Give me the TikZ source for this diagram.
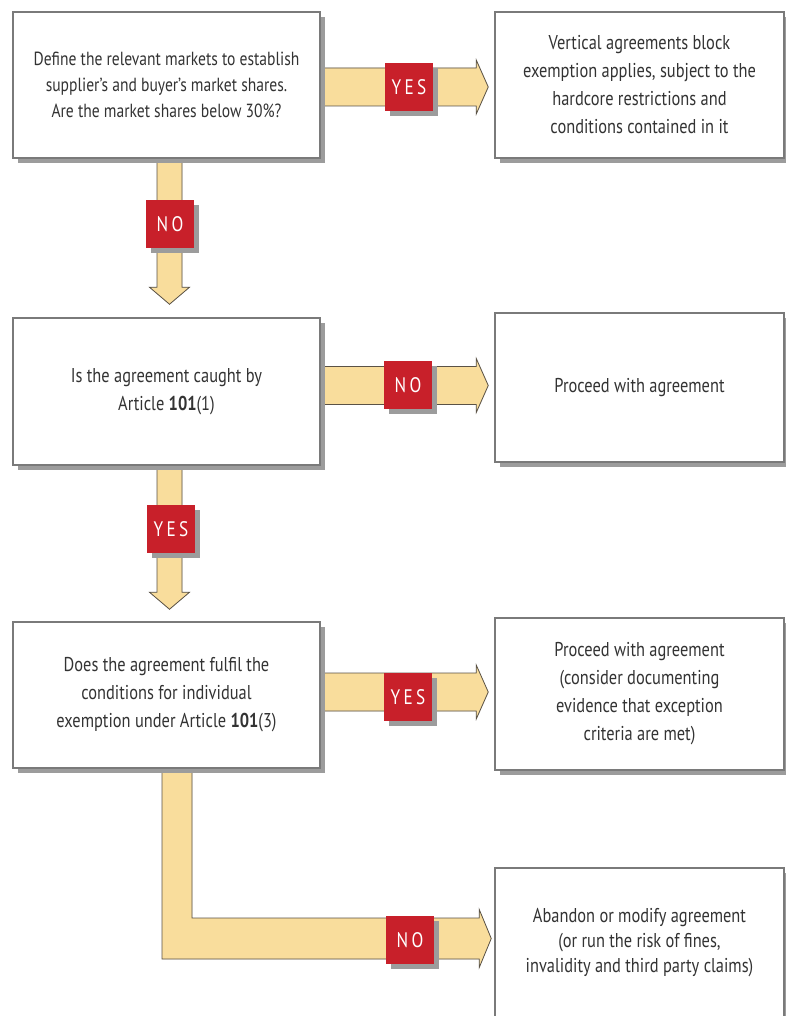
\documentclass[tikz,border=0pt]{standalone}
\usepackage{fontspec}
\setmainfont{PT Sans}[FakeStretch=0.82]
\usetikzlibrary{shadows,calc}
\pgfdeclarelayer{bg}
\pgfsetlayers{bg,main}
\definecolor{boxline}{HTML}{7A7A7A}
\definecolor{shadowgray}{HTML}{9C9C9C}
\definecolor{arrowfill}{HTML}{F9DD9C}
\definecolor{arrowline}{HTML}{5A5246}
\definecolor{labelred}{HTML}{C8202A}
\definecolor{textgray}{HTML}{333333}
\tikzset{
  box/.style={draw=boxline, line width=1.5pt, fill=white, align=center, text=textgray,
    inner sep=0pt, font=\fontsize{20}{28}\selectfont,
    drop shadow={shadow xshift=5pt, shadow yshift=-5pt, fill=shadowgray, opacity=1}},
  lbl/.style={fill=labelred, text=white, minimum width=48pt, minimum height=48pt, inner sep=0pt,
    font=\fontsize{21}{21}\selectfont\addfontfeature{LetterSpace=16},
    drop shadow={shadow xshift=5pt, shadow yshift=-5pt, fill=shadowgray, opacity=1}},
  fat/.style={fill=arrowfill, draw=arrowline, line width=0.8pt, line join=miter},
  fatshadow/.style={fill=shadowgray, draw=none},
}
% horizontal fat arrow: #1 tail, #2 tip
\newcommand{\hfat}[2]{%
  \begin{pgfonlayer}{bg}
  \foreach \st/\dx in {fatshadow/4pt, fat/0pt}{%
    \path[\st, shift={(\dx,-\dx)}] let \p1=(#1), \p2=(#2) in
      (\x1,\y1+19pt) -- (\x2-12pt,\y1+19pt) -- (\x2-12pt,\y1+27pt) -- (\x2,\y1)
      -- (\x2-12pt,\y1-27pt) -- (\x2-12pt,\y1-19pt) -- (\x1,\y1-19pt) -- cycle;
  }
  \end{pgfonlayer}}
% vertical fat arrow: #1 tail, #2 tip
\newcommand{\vfat}[2]{%
  \begin{pgfonlayer}{bg}
  \foreach \st/\dx in {fatshadow/4pt, fat/0pt}{%
    \path[\st, shift={(\dx,-\dx)}] let \p1=(#1), \p2=(#2) in
      (\x1-12.5pt,\y1) -- (\x1-12.5pt,\y2+17pt) -- (\x1-20pt,\y2+17pt) -- (\x1,\y2)
      -- (\x1+20pt,\y2+17pt) -- (\x1+12.5pt,\y2+17pt) -- (\x1+12.5pt,\y1) -- cycle;
  }
  \end{pgfonlayer}}
% L-shaped fat arrow: #1 tail (down), #2 tip (right)
\newcommand{\lfat}[2]{%
  \begin{pgfonlayer}{bg}
  \foreach \st/\dx in {fatshadow/4pt, fat/0pt}{%
    \path[\st, shift={(\dx,-\dx)}] let \p1=(#1), \p2=(#2) in
      (\x1-15pt,\y1) -- (\x1-15pt,\y2-20.5pt) -- (\x2-12pt,\y2-20.5pt) -- (\x2-12pt,\y2-29pt)
      -- (\x2,\y2) -- (\x2-12pt,\y2+29pt) -- (\x2-12pt,\y2+20.5pt) -- (\x1+15pt,\y2+20.5pt)
      -- (\x1+15pt,\y1) -- cycle;
  }
  \end{pgfonlayer}}
\begin{document}
\begin{tikzpicture}[x=1pt,y=-1pt]
\useasboundingbox (0,0) rectangle (786,1016);

% boxes
\node[box, minimum width=307pt, minimum height=146pt, font=\fontsize{19}{26}\selectfont] (q1) at (166.5,85)
  {Define the relevant markets to establish\\supplier's and buyer's market shares.\\Are the market shares below 30\%?};
\node[box, minimum width=289pt, minimum height=146pt] (r1) at (639.5,85)
  {Vertical agreements block\\exemption applies, subject to the\\hardcore restrictions and\\conditions contained in it};
\node[box, minimum width=307pt, minimum height=147pt] (q2) at (166.5,391.5)
  {Is the agreement caught by\\Article \textbf{101}(1)};
\node[box, minimum width=289pt, minimum height=149pt] (r2) at (639.5,387.5)
  {Proceed with agreement};
\node[box, minimum width=307pt, minimum height=146pt] (q3) at (166.5,695)
  {Does the agreement fulfil the\\conditions for individual\\exemption under Article \textbf{101}(3)};
\node[box, minimum width=289pt, minimum height=152pt] (r3) at (639.5,694)
  {Proceed with agreement\\(consider documenting\\evidence that exception\\criteria are met)};
\node[box, minimum width=289pt, minimum height=150pt, font=\fontsize{20}{25}\selectfont] (r4) at (639.5,943)
  {Abandon or modify agreement\\(or run the risk of fines,\\invalidity and third party claims)};

% connectors
\coordinate (t1) at ($(q1.east)+(0,2)$);
\coordinate (p1) at ($(r1.west)+(-6,0)$);
\hfat{t1}{p1}
\coordinate (t2) at ($(q1.south)+(3,0)$);
\coordinate (p2) at ($(q2.north)+(3,-13)$);
\vfat{t2}{p2}
\coordinate (t3) at ($(q2.east)+(0,-6)$);
\coordinate (p3) at ($(r2.west)+(-6,0)$);
\hfat{t3}{p3}
\coordinate (t4) at ($(q2.south)+(3,0)$);
\coordinate (p4) at ($(q3.north)+(3,-12)$);
\vfat{t4}{p4}
\coordinate (t5) at ($(q3.east)+(0,-3)$);
\coordinate (p5) at ($(r3.west)+(-6,0)$);
\hfat{t5}{p5}
\coordinate (t6) at ($(q3.south)+(10.5,0)$);
\coordinate (p6) at ($(r4.west)+(-3,-4.5)$);
\lfat{t6}{p6}

% labels
\node[lbl] (l1) at (409,87) {YES};
\node[lbl] (l2) at (170,224) {NO};
\node[lbl] (l3) at (408,385) {NO};
\node[lbl] (l4) at (171,529) {YES};
\node[lbl] (l5) at (408,697) {YES};
\node[lbl] (l6) at (410,940) {NO};
\end{tikzpicture}
\end{document}
